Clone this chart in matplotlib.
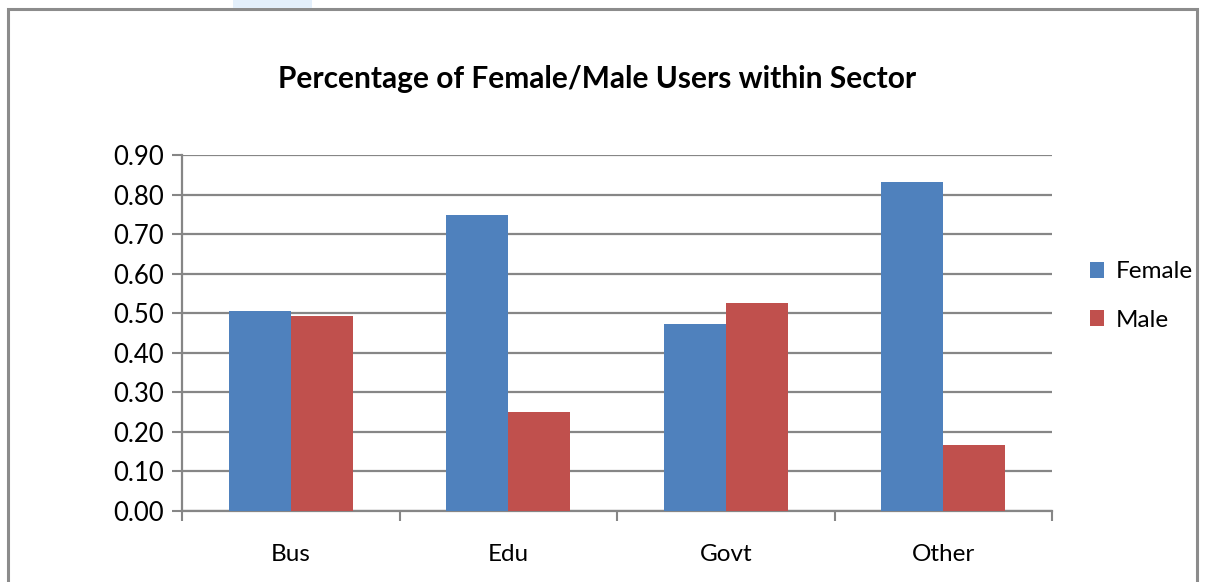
import matplotlib.pyplot as plt
import numpy as np
from matplotlib.patches import Rectangle

plt.rcParams['font.family'] = ['Lato', 'DejaVu Sans']

sectors = ['Bus', 'Edu', 'Govt', 'Other']
female = [0.506, 0.749, 0.473, 0.833]
male = [0.494, 0.251, 0.527, 0.167]
yticks = [0.0, 0.1, 0.2, 0.3, 0.4, 0.5, 0.6, 0.7, 0.8, 0.9]

W, H = 1207, 582
fig = plt.figure(figsize=(W / 100, H / 100), dpi=100)

# outer chart frame (bottom edge cut off in the source)
fig.patches.append(Rectangle((8 / W, -0.1), (1197 - 8) / W, (H - 9) / H + 0.1,
                             transform=fig.transFigure, fill=False,
                             edgecolor='#8c8c8c', linewidth=2.2))
# faint watermark at the top
fig.patches.append(Rectangle((233 / W, (H - 8) / H), 79 / W, 8 / H,
                             transform=fig.transFigure, facecolor='#e3effb',
                             edgecolor='none'))

ax = fig.add_axes([182 / W, 71 / H, (1052 - 182) / W, 356 / H])

x = np.arange(len(sectors))
bw = 0.2857
ax.bar(x - bw / 2, female, bw, color='#4F81BD', label='Female', zorder=3)
ax.bar(x + bw / 2, male, bw, color='#C0504D', label='Male', zorder=3)

ax.set_xlim(-0.5, len(sectors) - 0.5)
ax.set_ylim(0, 0.9)
ax.set_yticks(yticks)
ax.set_yticklabels([f'{v:.2f}' for v in yticks], fontsize=18.5)
ax.set_xticks(np.arange(len(sectors) + 1) - 0.5, minor=False)
ax.set_xticklabels([])
ax.set_xticks(x, minor=True)
ax.set_xticklabels(sectors, minor=True, fontsize=17.5)
ax.tick_params(axis='x', which='minor', length=0, pad=24)
ax.tick_params(axis='x', which='major', length=7, width=1.5, color='#868686')
ax.tick_params(axis='y', length=7, width=1.5, color='#868686', pad=6)

ax.grid(axis='y', color='#868686', linewidth=1.6, zorder=0)
for side in ['top', 'right']:
    ax.spines[side].set_visible(False)
for side in ['left', 'bottom']:
    ax.spines[side].set_color('#868686')
    ax.spines[side].set_linewidth(1.6)

fig.text(597 / W, 1 - 79 / H, 'Percentage of Female/Male Users within Sector',
         ha='center', va='center', fontsize=21.5, fontweight='bold')

fig.legend(loc='center left', bbox_to_anchor=(1068 / W, 1 - 296 / H),
           frameon=False, fontsize=17.5, handlelength=0.6, handleheight=0.6,
           handletextpad=0.45, labelspacing=1.12)

plt.savefig('out.png', dpi=100)
